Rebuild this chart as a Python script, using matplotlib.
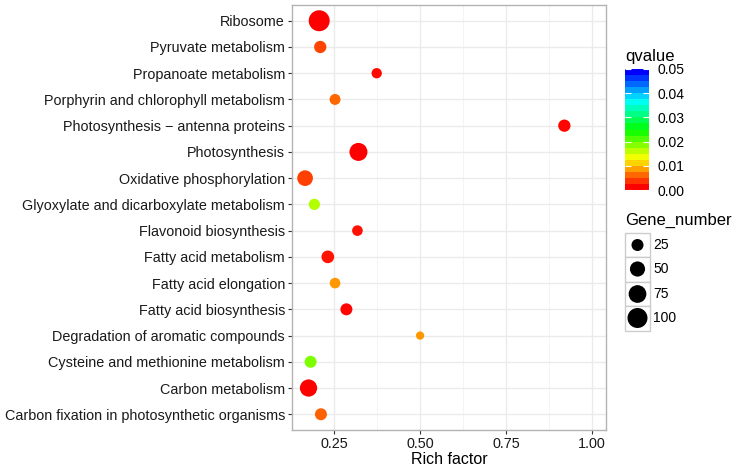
import numpy as np
import matplotlib
matplotlib.use("Agg")
import matplotlib.pyplot as plt
from matplotlib.colors import LinearSegmentedColormap, Normalize
from matplotlib.patches import Rectangle

plt.rcParams['font.family'] = ['Liberation Sans', 'DejaVu Sans']

# pathways listed top to bottom as they appear on the chart
pathways = [
    "Ribosome",
    "Pyruvate metabolism",
    "Propanoate metabolism",
    "Porphyrin and chlorophyll metabolism",
    "Photosynthesis \u2212 antenna proteins",
    "Photosynthesis",
    "Oxidative phosphorylation",
    "Glyoxylate and dicarboxylate metabolism",
    "Flavonoid biosynthesis",
    "Fatty acid metabolism",
    "Fatty acid elongation",
    "Fatty acid biosynthesis",
    "Degradation of aromatic compounds",
    "Cysteine and methionine metabolism",
    "Carbon metabolism",
    "Carbon fixation in photosynthetic organisms",
]
rich_factor = [0.207, 0.210, 0.374, 0.253, 0.919, 0.321, 0.166, 0.193,
               0.318, 0.232, 0.253, 0.286, 0.500, 0.182, 0.176, 0.212]
qvalue = [0.0000, 0.0034, 0.0005, 0.0052, 0.0002, 0.0001, 0.0033, 0.0164,
          0.0008, 0.0010, 0.0075, 0.0003, 0.0075, 0.0188, 0.0001, 0.0047]
gene_number = [112, 27, 14, 18, 27, 78, 55, 20,
               16, 30, 16, 25, 3, 25, 70, 25]

size_breaks = [25, 50, 75, 100]
q_ticks = [0.00, 0.01, 0.02, 0.03, 0.04, 0.05]
x_ticks = [0.25, 0.50, 0.75, 1.00]
x_minor = [0.375, 0.625, 0.875]

W, H = 740, 473
fig = plt.figure(figsize=(W / 100, H / 100), dpi=100)


def px_axes(x0, y0, x1, y1):
    return fig.add_axes([x0 / W, 1 - y1 / H, (x1 - x0) / W, (y1 - y0) / H])


def marker_area(n):
    # ggplot-style area scaling, diameter in pixels -> points^2
    d_px = np.sqrt(58.7 + 3.41 * np.asarray(n, dtype=float))
    return (d_px * 0.72) ** 2


cmap = LinearSegmentedColormap.from_list(
    "q", ["#FF0000", "#FFFF00", "#00FF00", "#00FFFF", "#0000FF"])
norm = Normalize(vmin=0, vmax=0.05)

ax = px_axes(292, 5, 606, 430)
ypos = np.arange(len(pathways))[::-1] + 1
ax.scatter(rich_factor, ypos, s=marker_area(gene_number), c=qvalue,
           cmap=cmap, norm=norm, edgecolors="none", zorder=3)

ax.set_xlim(0.128, 1.04)
ax.set_ylim(0.4, len(pathways) + 0.6)
ax.set_xticks(x_ticks)
ax.set_xticklabels([f"{v:.2f}" for v in x_ticks])
ax.set_xticks(x_minor, minor=True)
ax.set_yticks(ypos)
ax.set_yticklabels(pathways)
ax.grid(which="major", color="#EBEBEB", lw=1.0, zorder=0)
ax.grid(which="minor", axis="x", color="#F2F2F2", lw=0.6, zorder=0)
ax.set_axisbelow(True)
ax.tick_params(which="major", length=3, color="#333333", labelsize=10.4,
               labelcolor="#1A1A1A", pad=2)
ax.tick_params(which="minor", length=0)
for sp in ax.spines.values():
    sp.set_color("#B3B3B3")
    sp.set_linewidth(1.0)
ax.set_xlabel("Rich factor", fontsize=11.5, labelpad=1)

# colour bar for qvalue
cax = px_axes(625, 69, 649, 190)
bins = np.linspace(0, 0.05, 20)[:, None]
cax.imshow(bins, cmap=cmap, norm=norm, origin="lower", aspect="auto",
           extent=[0, 1, 0, 0.05])
cax.set_xlim(0, 1)
cax.set_ylim(0, 0.05)
cax.set_xticks([])
cax.set_yticks(q_ticks)
cax.set_yticklabels([f"{v:.2f}" for v in q_ticks])
cax.tick_params(axis="y", direction="in", color="white", length=4, width=0.8,
                left=True, right=True, labelleft=False, labelright=True,
                labelsize=10, pad=6)
for sp in cax.spines.values():
    sp.set_visible(False)
fig.text(625 / W, 1 - 56 / H, "qvalue", fontsize=12, va="center")

# size legend for Gene_number
fig.text(625 / W, 1 - 220 / H, "Gene_number", fontsize=12, va="center")
lax = px_axes(612, 228, 740, 335)
lax.set_xlim(612, 740)
lax.set_ylim(335, 228)
lax.axis("off")
centers = [245, 269, 294, 318]
edges = [233, 257, 281.5, 306, 331]
for i, n in enumerate(size_breaks):
    lax.add_patch(Rectangle((625, edges[i]), 25, edges[i + 1] - edges[i],
                            facecolor="white", edgecolor="#CCCCCC", lw=1.0))
    lax.scatter([637.5], [centers[i]], s=marker_area(n), color="black",
                edgecolors="none", zorder=3)
    lax.text(653, centers[i], str(n), fontsize=10, va="center")

fig.savefig("out.png", dpi=100)
